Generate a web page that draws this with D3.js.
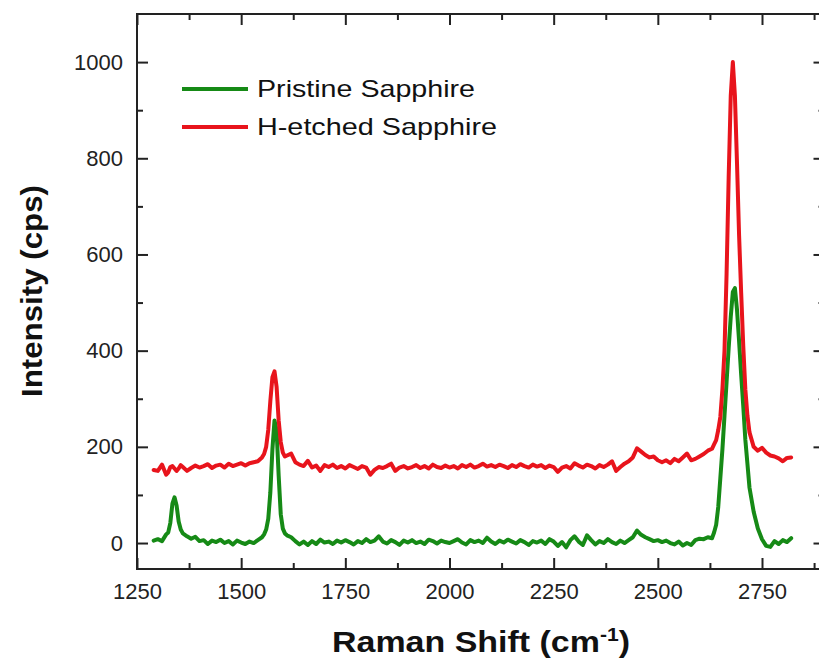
<!DOCTYPE html>
<html>
<head>
<meta charset="utf-8">
<script src="https://cdn.jsdelivr.net/npm/d3@7"></script>
<style>
  body { margin: 0; background: #fff; }
  svg { display: block; }
  .tick text { font-family: "Liberation Sans", Arial, sans-serif; font-size: 22px; fill: #222; }
</style>
</head>
<body>
<div id="plot"></div>
<script>
// Raman shift sample positions (cm-1)
var ramanShift = [
  1290,1300,1310,1320,1325,1330,1335,1340,1345,1350,1355,1360,
  1370,1380,1390,1400,1410,1420,1430,1440,1450,1460,1470,1480,1490,1500,1510,1520,1530,1540,1550,
  1555,1560,1565,1570,1575,1580,1585,1590,1595,1600,1605,1610,
  1620,1630,1640,1650,1660,1670,1680,1690,1700,
  1710,1720,1730,1740,1750,1760,1770,1780,1790,1800,
  1810,1820,1830,1840,1850,1860,1870,1880,1890,1900,
  1910,1920,1930,1940,1950,1960,1970,1980,1990,2000,
  2010,2020,2030,2040,2050,2060,2070,2080,2090,2100,
  2110,2120,2130,2140,2150,2160,2170,2180,2190,2200,
  2210,2220,2230,2240,2250,2260,2270,2280,2290,2300,
  2310,2320,2330,2340,2350,2360,2370,2380,2390,2400,
  2410,2420,2430,2440,2450,2460,2470,2480,2490,2500,
  2510,2520,2530,2540,2550,2560,2570,2580,2590,2600,
  2610,2620,2630,
  2635,2640,2645,2650,2655,2660,2665,2670,2675,2680,2685,2690,2695,2700,2705,2710,2715,2720,2725,2730,
  2740,2750,2760,2770,2780,2790,2800,2810,2820
];

// Pristine Sapphire intensity (cps)
var pristine = [
  5,8,4,18,22,42,82,95,78,45,28,20,
  14,9,13,4,6,-2,5,2,7,0,4,-3,5,1,-2,3,0,6,12,
  18,28,50,105,195,255,235,140,60,30,20,16,
  12,4,-3,3,-4,4,-2,7,1,
  3,-2,5,1,6,2,-3,4,0,8,
  2,5,14,3,-1,6,2,-4,5,1,
  6,0,3,-2,7,4,-1,5,2,0,
  4,8,1,-3,6,2,5,0,11,3,
  -2,5,1,7,3,-1,6,2,-4,4,
  1,5,-2,8,3,-6,2,-9,6,14,
  3,-4,16,6,-3,4,0,8,2,-2,
  5,0,6,12,26,17,12,8,4,6,
  2,5,0,-3,3,-5,0,-4,6,9,
  8,12,10,
  22,38,75,135,195,265,335,405,470,522,530,485,420,350,285,215,165,115,90,65,
  30,8,-6,-8,4,-2,6,2,10
];

// H-etched Sapphire intensity (cps)
var hEtched = [
  152,150,163,142,147,158,160,155,150,155,162,158,
  150,156,161,157,160,164,156,161,163,157,165,160,163,166,161,166,168,170,178,
  185,200,235,295,345,357,325,255,210,188,180,182,
  186,168,163,160,171,157,161,150,162,
  158,163,156,160,155,162,158,154,160,157,
  142,152,158,156,160,165,150,157,160,155,
  158,162,156,160,155,163,158,156,161,157,
  160,155,162,158,163,157,160,165,159,162,
  158,163,160,156,162,158,164,160,157,163,
  159,162,156,161,158,148,157,160,155,166,
  161,157,163,160,155,162,158,163,170,150,
  158,165,170,178,197,190,183,178,180,172,
  168,172,166,175,170,178,186,172,175,180,
  185,192,196,
  205,214,235,262,320,400,560,760,930,1000,930,790,640,520,410,320,265,230,215,200,
  192,198,188,182,180,176,170,177,178
];

var seriesNames = ["Pristine Sapphire", "H-etched Sapphire"];
var seriesColors = ["#168a16", "#e8141c"];

var xMajor = [1250, 1500, 1750, 2000, 2250, 2500, 2750];
var xMinor = [1375, 1625, 1875, 2125, 2375, 2625, 2875];
var yMajor = [0, 200, 400, 600, 800, 1000];
var yMinor = [100, 300, 500, 700, 900];

var width = 819, height = 659;
var plotLeft = 137, plotTop = 14, plotBottom = 569, plotRight = 824.5;

var svg = d3.select("#plot")
  .append("svg")
  .attr("width", width)
  .attr("height", height);

const x = d3.scaleLinear()
  .domain([1250, 2900])
  .range([plotLeft, plotRight]);

const y = d3.scaleLinear()
  .domain([-54, 1100])
  .range([plotBottom, plotTop]);

// axes (ticks point inward)
function styleAxis(g) {
  g.select(".domain").remove();
  g.selectAll(".tick line").attr("stroke", "#222").attr("stroke-width", 2);
}

svg.append("g")
  .attr("transform", `translate(0,${plotBottom})`)
  .call(d3.axisBottom(x).tickValues(xMajor).tickSize(-11).tickPadding(14).tickFormat(d3.format("d")))
  .call(styleAxis);
svg.append("g")
  .attr("transform", `translate(0,${plotBottom})`)
  .call(d3.axisBottom(x).tickValues(xMinor).tickSize(-6).tickFormat(""))
  .call(styleAxis);
svg.append("g")
  .attr("transform", `translate(0,${plotTop})`)
  .call(d3.axisTop(x).tickValues(xMajor).tickSize(-11).tickFormat(""))
  .call(styleAxis);
svg.append("g")
  .attr("transform", `translate(0,${plotTop})`)
  .call(d3.axisTop(x).tickValues(xMinor).tickSize(-6).tickFormat(""))
  .call(styleAxis);

svg.append("g")
  .attr("transform", `translate(${plotLeft},0)`)
  .call(d3.axisLeft(y).tickValues(yMajor).tickSize(-11).tickPadding(14).tickFormat(d3.format("d")))
  .call(styleAxis);
svg.append("g")
  .attr("transform", `translate(${plotLeft},0)`)
  .call(d3.axisLeft(y).tickValues(yMinor).tickSize(-6).tickFormat(""))
  .call(styleAxis);
svg.append("g")
  .attr("transform", `translate(${plotRight},0)`)
  .call(d3.axisRight(y).tickValues(yMajor).tickSize(-11).tickFormat(""))
  .call(styleAxis);
svg.append("g")
  .attr("transform", `translate(${plotRight},0)`)
  .call(d3.axisRight(y).tickValues(yMinor).tickSize(-6).tickFormat(""))
  .call(styleAxis);

// frame
svg.append("rect")
  .attr("x", plotLeft)
  .attr("y", plotTop)
  .attr("width", plotRight - plotLeft)
  .attr("height", plotBottom - plotTop)
  .attr("fill", "none")
  .attr("stroke", "#222")
  .attr("stroke-width", 2);

// spectra
var line = d3.line()
  .x(function (d) { return x(d[0]); })
  .y(function (d) { return y(d[1]); });

var spectra = [pristine, hEtched];
spectra.forEach(function (vals, i) {
  var pts = ramanShift.map(function (s, j) { return [s, vals[j]]; });
  svg.append("path")
    .datum(pts)
    .attr("d", line)
    .attr("fill", "none")
    .attr("stroke", seriesColors[i])
    .attr("stroke-width", 4)
    .attr("stroke-linejoin", "round")
    .attr("stroke-linecap", "round");
});

// legend
var legend = svg.append("g");
var legendTextLen = [218, 240];
seriesNames.forEach(function (name, i) {
  var ly = 89 + i * 38;
  legend.append("line")
    .attr("x1", 182).attr("x2", 248)
    .attr("y1", ly).attr("y2", ly)
    .attr("stroke", seriesColors[i])
    .attr("stroke-width", 4);
  legend.append("text")
    .attr("x", 257)
    .attr("y", ly)
    .attr("dy", "0.35em")
    .attr("textLength", legendTextLen[i])
    .attr("lengthAdjust", "spacingAndGlyphs")
    .style("font-family", "Liberation Sans, Arial, sans-serif")
    .style("font-size", "24px")
    .style("fill", "#111")
    .text(name);
});

// axis titles
var xTitle = svg.append("text")
  .attr("x", 332)
  .attr("y", 652)
  .attr("textLength", 298)
  .attr("lengthAdjust", "spacingAndGlyphs")
  .style("font-family", "Liberation Sans, Arial, sans-serif")
  .style("font-size", "29px")
  .style("font-weight", "bold")
  .style("fill", "#111");
xTitle.append("tspan").text("Raman Shift (cm");
xTitle.append("tspan").attr("dy", -11).style("font-size", "18px").text("-1");
xTitle.append("tspan").attr("dy", 11).text(")");

svg.append("text")
  .attr("transform", "translate(42,291) rotate(-90)")
  .attr("text-anchor", "middle")
  .attr("textLength", 212)
  .attr("lengthAdjust", "spacingAndGlyphs")
  .style("font-family", "Liberation Sans, Arial, sans-serif")
  .style("font-size", "29px")
  .style("font-weight", "bold")
  .style("fill", "#111")
  .text("Intensity (cps)");
</script>
</body>
</html>
